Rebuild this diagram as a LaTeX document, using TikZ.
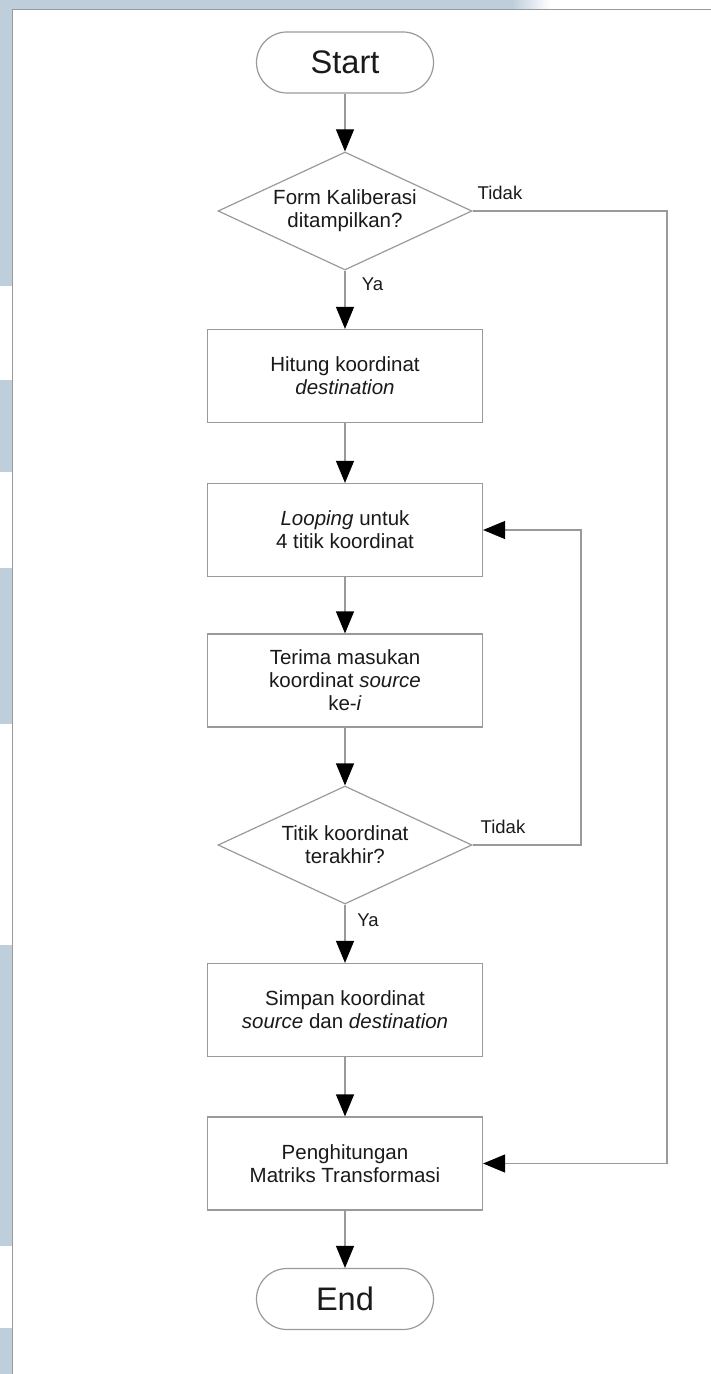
\documentclass[tikz,border=0pt]{standalone}
\usepackage{fontspec}
\setmainfont{Liberation Sans}
\usetikzlibrary{shapes.geometric,arrows.meta}
\definecolor{edge}{HTML}{9A9A9A}
\definecolor{wash}{HTML}{BFCEDB}
\definecolor{ink}{HTML}{1A1A1A}
\begin{document}
\begin{tikzpicture}[x=0.5pt,y=-0.5pt,
  every node/.style={text=ink, font=\fontsize{10.25}{11.5}\selectfont},
  outline/.style={draw=edge, line width=0.6pt},
  terminal/.style={outline, rounded corners=15.25pt, minimum width=88.5pt,
    minimum height=30.5pt, inner sep=0pt, font=\fontsize{16.3}{18}\selectfont},
  process/.style={outline, rectangle, minimum width=137.5pt, minimum height=46.5pt,
    inner sep=0pt, align=center},
  decision/.style={outline, diamond, aspect=2.15, minimum width=127pt,
    minimum height=59pt, inner sep=0pt, align=center},
  branch/.style={font=\fontsize{9.25}{11}\selectfont, inner sep=0pt},
  flow/.style={draw=edge, line width=0.6pt,
    -{Triangle[length=11pt,width=9pt,color=black]}}
]
% page and margin wash
\useasboundingbox (0,0) rectangle (711,1374);
\fill[white] (0,0) rectangle (711,1374);
\fill[wash] (0,0) rectangle (512,9.5);
\shade[left color=wash, right color=white] (512,0) rectangle (550,9.5);
\foreach \a/\b in {0/286, 380/472, 568/724, 945/1246, 1328/1374}
  \fill[wash] (0,\a) rectangle (12.5,\b);
% frame
\draw[edge, line width=0.75pt] (12.5,1374) -- (12.5,9.5) -- (711,9.5);

% flow nodes
\node[terminal] (start) at (345,62.5) {Start};
\node[decision] (d1) at (345,211) {Form Kaliberasi\\ditampilkan?};
\node[process] (p1) at (345,376) {Hitung koordinat\\\textit{destination}};
\node[process] (p2) at (345,530) {\textit{Looping} untuk\\4 titik koordinat};
\node[process] (p3) at (345,680.5) {Terima masukan\\koordinat \textit{source}\\ke-\textit{i}};
\node[decision] (d2) at (345,845) {Titik koordinat\\terakhir?};
\node[process] (p4) at (345,1010) {Simpan koordinat\\\textit{source} dan \textit{destination}};
\node[process] (p5) at (345,1163.5) {Penghitungan\\Matriks Transformasi};
\node[terminal] (end) at (345,1299) {End};

% branch labels
\node[branch] (no1) at (500,193) {Tidak};
\node[branch] (yes1) at (372.5,284) {Ya};
\node[branch] (no2) at (503,827) {Tidak};
\node[branch] (yes2) at (368,920) {Ya};

% rail corners
\coordinate (rail1) at (667,211);
\coordinate (rail2) at (581,845);

% connectors
\draw[flow] (start) -- (d1);
\draw[flow] (d1) -- (p1);
\draw[flow] (p1) -- (p2);
\draw[flow] (p2) -- (p3);
\draw[flow] (p3) -- (d2);
\draw[flow] (d2) -- (p4);
\draw[flow] (p4) -- (p5);
\draw[flow] (p5) -- (end);
\draw[flow] (d1.east) -- (rail1) |- (p5.east);
\draw[flow] (d2.east) -- (rail2) |- (p2.east);
\end{tikzpicture}
\end{document}
